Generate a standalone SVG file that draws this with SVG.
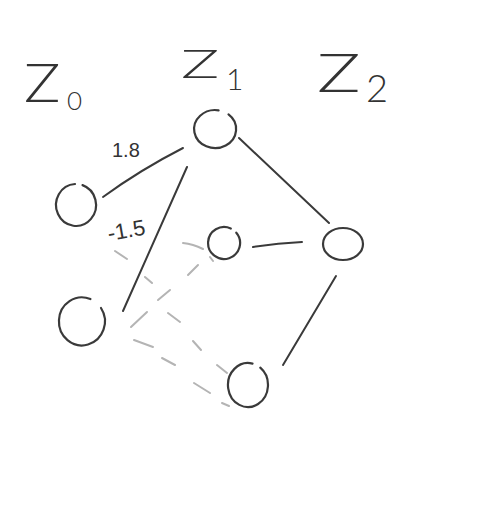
<svg xmlns="http://www.w3.org/2000/svg" width="486" height="514" viewBox="0 0 486 514">
<style>
.n{fill:none;stroke:#3a3a3a;stroke-width:2.2;stroke-linecap:round}
.e{fill:none;stroke:#3a3a3a;stroke-width:2;stroke-linecap:round}
.d{fill:none;stroke:#b4b4b4;stroke-width:2;stroke-linecap:round}
.t{font-family:"Liberation Sans",Arial,sans-serif;fill:#333}
.h{font-family:Lato,"Open Sans","Liberation Sans",sans-serif;font-weight:300;fill:#333}
</style>
<rect width="486" height="514" fill="#fff"/>
<g id="headers" class="h">
<text font-size="53" transform="translate(24,102) scale(1.15,1)">Z</text>
<text x="67" y="110" font-size="26">0</text>
<text font-size="40" transform="translate(181,78) scale(1.6,1)">Z</text>
<text x="226" y="90" font-size="30">1</text>
<text font-size="54" transform="translate(317,92) scale(1.35,1)">Z</text>
<text x="366" y="102" font-size="38">2</text>
</g>
<g id="connectors">
<path class="e" d="M103,197 Q140,170 183,148"/>
<path class="e" d="M187,167 L123,311"/>
<path class="e" d="M239,138 L329,223"/>
<path class="e" d="M253,247 Q278,243 302,242"/>
<path class="e" d="M336,276 L283,365"/>
<path class="d" d="M115,251 L127,259 M145,277 L152,283 M168,313 L180,322 M193,341 L201,350 M217,365 L227,373"/>
<path class="d" d="M183,243 Q193,244 203,249 M210,257 L213,261"/>
<path class="d" d="M188,275 L198,265 M158,300 L170,290 M131,327 L147,312"/>
<path class="d" d="M134,340 L153,347 M162,358 L175,365 M194,383 L210,393 M222,403 L229,406"/>
<text class="t" x="112" y="157" font-size="20">1.8</text>
<text class="t" x="109" y="241" font-size="22" transform="rotate(-10 109 241)">-1.5</text>
</g>
<g id="z0a"><path class="n" d="M82.5,185.1 A20,21 0 1 1 75,184"/></g>
<g id="z0b"><path class="n" d="M101,308 A23,24 0 1 1 90.4,299.1"/></g>
<g id="z1a"><path class="n" d="M228.5,114.4 A21,19 0 1 1 218.6,110.3"/></g>
<g id="z1b"><path class="n" d="M236.3,232.7 A16,16 0 1 1 230.8,228.5"/></g>
<g id="z1c"><path class="n" d="M260.3,367.7 A20,22 0 1 1 252.5,363.6"/></g>
<g id="z2"><ellipse class="n" cx="343" cy="244" rx="20" ry="16"/></g>
</svg>
